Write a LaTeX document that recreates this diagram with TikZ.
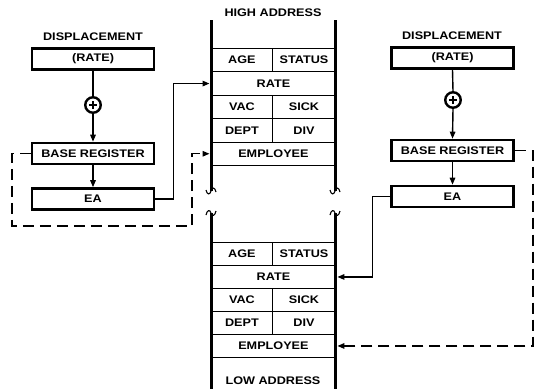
\documentclass[tikz,border=0pt]{standalone}
\usepackage{fontspec}
\setmainfont[FakeStretch=1.15]{Liberation Sans}
\usetikzlibrary{arrows.meta}
\begin{document}
\begin{tikzpicture}[x=1pt,y=-1pt,
  lbl/.style={font=\fontsize{11}{12}\selectfont\bfseries, inner sep=0pt},
  box/.style={draw, line width=2.6pt, minimum width=122pt, minimum height=21pt, inner sep=0pt, font=\fontsize{11}{12}\selectfont\bfseries},
  cell/.style={draw, line width=0.9pt, inner sep=0pt, anchor=north west, font=\fontsize{11}{12}\selectfont\bfseries},
  full/.style={cell, minimum width=124pt},
  lhalf/.style={cell, minimum width=61pt},
  rhalf/.style={cell, minimum width=63pt},
  wall/.style={line width=3pt},
  brk/.style={line width=1.1pt},
  conn/.style={line width=1.4pt},
  tip/.style={-{Triangle[length=7pt,width=5.5pt]}},
  dsh/.style={line width=1.4pt, dash pattern=on 11pt off 6pt},
  adder/.style={circle, draw, line width=2.4pt, minimum size=15.5pt, inner sep=0pt}
]
\useasboundingbox (0,0) rectangle (537,389);

% ---------- left group ----------
\node[lbl] (dispL) at (93,37) {DISPLACEMENT};
\node[box] (rateL) at (93,59) {(RATE)};
\node[adder] (addL) at (93,105) {};
\draw[line width=1.5pt] (addL.center) ++(-4,0) -- ++(8,0) (addL.center) ++(0,-4) -- ++(0,8);
\node[box] (baseL) at (93,153.5) {BASE REGISTER};
\node[box] (eaL) at (93,199) {EA};
\draw[conn] (rateL.south) -- (addL.north);
\draw[conn,tip] (addL.south) -- (baseL.north);
\draw[conn,tip] (baseL.south) -- (eaL.north);

% ---------- right group ----------
\node[lbl] (dispR) at (452,36) {DISPLACEMENT};
\node[box] (rateR) at (452.5,58) {(RATE)};
\node[adder] (addR) at (453,100) {};
\draw[line width=1.5pt] (addR.center) ++(-4,0) -- ++(8,0) (addR.center) ++(0,-4) -- ++(0,8);
\node[box] (baseR) at (452.5,150.5) {BASE REGISTER};
\node[box] (eaR) at (452.5,196.5) {EA};
\draw[conn] (rateR.south) -- (addR.north);
\draw[conn,tip] (addR.south) -- (baseR.north);
\draw[conn,tip] (baseR.south) -- (eaR.north);

% ---------- top memory ----------
\node[lbl] (high) at (273,13) {HIGH ADDRESS};
\node[lhalf, minimum height=23.4pt] (ageT) at (211,48) {AGE};
\node[rhalf, minimum height=23.4pt] (statT) at (272,48) {STATUS};
\node[full, minimum height=23.4pt] (rateT) at (211,71.4) {RATE};
\node[lhalf, minimum height=23.4pt] (vacT) at (211,94.8) {VAC};
\node[rhalf, minimum height=23.4pt] (sickT) at (272,94.8) {SICK};
\node[lhalf, minimum height=23.4pt] (deptT) at (211,118.2) {DEPT};
\node[rhalf, minimum height=23.4pt] (divT) at (272,118.2) {DIV};
\node[full, minimum height=23.4pt] (empT) at (211,141.6) {EMPLOYEE};
\draw[wall] (211,20) -- (211,191);
\draw[wall] (335,20) -- (335,191);

% ---------- bottom memory ----------
\node[lhalf, minimum height=23pt] (ageB) at (211,242) {AGE};
\node[rhalf, minimum height=23pt] (statB) at (272,242) {STATUS};
\node[full, minimum height=23pt] (rateB) at (211,265) {RATE};
\node[lhalf, minimum height=23pt] (vacB) at (211,288) {VAC};
\node[rhalf, minimum height=23pt] (sickB) at (272,288) {SICK};
\node[lhalf, minimum height=23pt] (deptB) at (211,311) {DEPT};
\node[rhalf, minimum height=23pt] (divB) at (272,311) {DIV};
\node[full, minimum height=23pt] (empB) at (211,334) {EMPLOYEE};
\node[lbl] (low) at (273,381) {LOW ADDRESS};
\draw[wall] (211,213) -- (211,389);
\draw[wall] (335,213) -- (335,389);

% break marks
\foreach \x in {211,335} {
  \draw[brk] (\x-5,190) .. controls (\x-4,195) and (\x-1,195) .. (\x,191) .. controls (\x+1,187) and (\x+4,187) .. (\x+5,192);
  \draw[brk] (\x-5,215) .. controls (\x-4,210) and (\x-1,209) .. (\x,213) .. controls (\x+1,217) and (\x+4,216) .. (\x+5,211);
}

% ---------- connectors ----------
\coordinate (dl1) at (12,226);
\coordinate (dl2) at (192,226);
\draw[conn,tip,shorten >=1.5pt] (eaL.east) -- ++(18,0) |- (rateT.west);
\draw[dsh,tip,shorten >=1.5pt] (baseL.west) -| (dl1) -- (dl2) |- (empT.west);
\draw[conn,tip,shorten >=1.5pt] (eaR.west) -- ++(-18,0) |- (rateB.east);
\draw[dsh,tip,shorten >=1.5pt] (baseR.east) -- ++(18,0) |- (empB.east);
\end{tikzpicture}
\end{document}
